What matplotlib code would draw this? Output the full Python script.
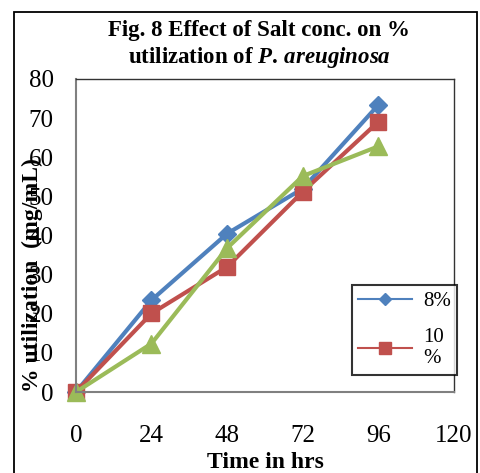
import matplotlib.pyplot as plt
from matplotlib.lines import Line2D
from matplotlib.patches import Rectangle

plt.rcParams['font.family'] = ['Liberation Serif', 'DejaVu Serif']
plt.rcParams['mathtext.fontset'] = 'custom'
plt.rcParams['mathtext.it'] = 'Liberation Serif:italic:bold'
plt.rcParams['mathtext.rm'] = 'Liberation Serif:bold'

hours = [0, 24, 48, 72, 96]
salt_8 = [0, 23.5, 40.5, 52.0, 73.4]
salt_10 = [0, 20.1, 32.0, 51.2, 69.1]
salt_12 = [0, 12.4, 36.8, 55.2, 62.8]
x_ticks = [0, 24, 48, 72, 96, 120]
y_ticks = [0, 10, 20, 30, 40, 50, 60, 70, 80]

fig = plt.figure(figsize=(4.8, 4.73), dpi=100)
ax = fig.add_axes([0.158, 0.171, 0.788, 0.662])

# outer chart border
fig.patches.append(Rectangle((0.029, -0.05), 0.965, 1.025, transform=fig.transFigure,
                             fill=False, edgecolor='black', linewidth=1.3))

ax.plot(hours, salt_8, color='#4F81BD', lw=3, marker='D', ms=9, label='8%', clip_on=False)
ax.plot(hours, salt_10, color='#C0504D', lw=3, marker='s', ms=11, label='10\n%', clip_on=False)
ax.plot(hours, salt_12, color='#9BBB59', lw=3, marker='^', ms=13, label='12%', clip_on=False)

ax.set_xlim(0, 120)
ax.set_ylim(0, 80)
ax.set_xticks(x_ticks)
ax.set_yticks(y_ticks)
ax.tick_params(axis='both', length=0, labelsize=18)
ax.tick_params(axis='y', pad=16)
ax.tick_params(axis='x', pad=24)

for s in ['left', 'bottom']:
    ax.spines[s].set_color('#808080')
    ax.spines[s].set_linewidth(1.5)
for s in ['top', 'right']:
    ax.spines[s].set_color('#333333')
    ax.spines[s].set_linewidth(1.0)

fig.text(0.54, 0.905, 'Fig. 8 Effect of Salt conc. on %\nutilization of $\\mathit{P.\\,areuginosa}$',
         ha='center', va='center', fontsize=16.5, fontweight='bold', linespacing=1.2)
ax.set_xlabel('Time in hrs', fontsize=17, fontweight='bold', labelpad=3)
fig.text(0.067, 0.419, '% utilization  (mg/mL)', rotation=90, ha='center', va='center',
         fontsize=17, fontweight='bold')

handles = [Line2D([], [], color='#4F81BD', lw=1.5, marker='D', ms=6),
           Line2D([], [], color='#C0504D', lw=1.5, marker='s', ms=8)]
leg = ax.legend(handles, ['8%', '10\n%'], loc='upper left', bbox_to_anchor=(0.73, 0.342),
                fontsize=15, frameon=True, fancybox=False, edgecolor='black',
                handlelength=2.6, labelspacing=0.8, borderaxespad=0, handletextpad=0.5,
                borderpad=0.3)
leg.get_frame().set_linewidth(1.5)

fig.savefig('out.png', dpi=100)
